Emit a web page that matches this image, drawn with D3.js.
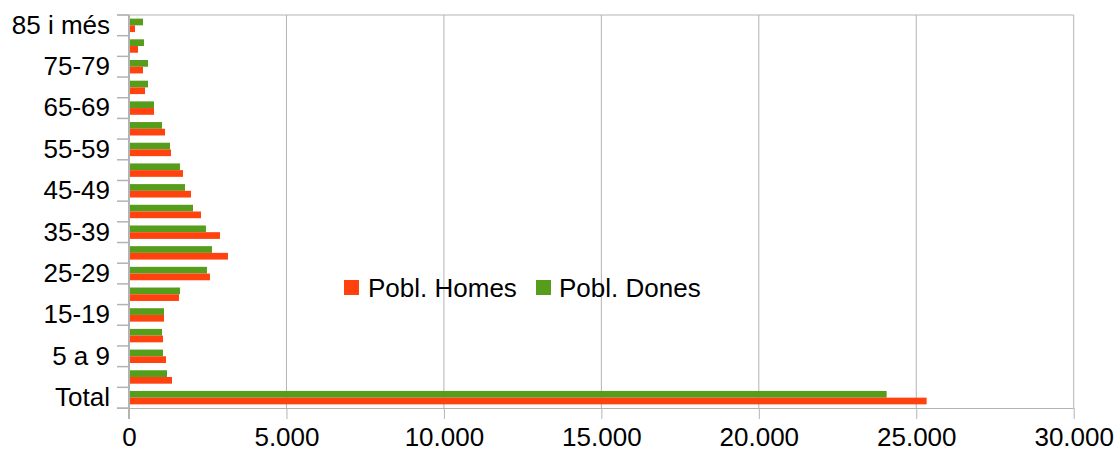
<!DOCTYPE html>
<html>
<head>
<meta charset="utf-8">
<script src="https://cdn.jsdelivr.net/npm/d3@7"></script>
<style>
  html, body { margin: 0; padding: 0; background: #fff; }
  svg { display: block; font-family: "Liberation Sans", Arial, sans-serif; }
</style>
</head>
<body>
<svg id="chart" width="1115" height="452"></svg>
<script>
// Categories, bottom to top
const categories = ["Total", "0-4", "5 a 9", "10-14", "15-19", "20-24", "25-29", "30-34", "35-39",
  "40-44", "45-49", "50-54", "55-59", "60-64", "65-69", "70-74", "75-79", "80-84", "85 i més"];
const seriesNames = ["Pobl. Dones", "Pobl. Homes"];
const dones = [24060, 1206, 1079, 1048, 1111, 1619, 2476, 2635, 2444,
  2032, 1778, 1619, 1302, 1048, 794, 603, 603, 476, 444];
const homes = [25330, 1365, 1175, 1079, 1111, 1587, 2571, 3143, 2889,
  2286, 1968, 1714, 1333, 1143, 794, 508, 444, 286, 190];
const xTicks = [0, 5000, 10000, 15000, 20000, 25000, 30000];
const colors = { "Pobl. Homes": "#ff420e", "Pobl. Dones": "#579d1c" };

const svg = d3.select("#chart");
const mLeft = 129, mRight = 1073.7, mTop = 15, mBottom = 408;
const gridColor = "#b3b3b3";
const fontSize = 26;

const x = d3.scaleLinear().domain([0, 30000]).range([mLeft, mRight]);
const y = d3.scaleBand().domain(categories).range([mBottom, mTop]).padding(0);
const sub = d3.scaleBand().domain(seriesNames).range([0, y.bandwidth()]).paddingInner(0).paddingOuter(0.54);

const fmt = d3.formatLocale({ decimal: ",", thousands: ".", grouping: [3], currency: ["", "€"] }).format(",d");

// vertical grid lines
svg.append("g").selectAll("line").data(xTicks.slice(1)).join("line")
  .attr("x1", d => x(d)).attr("x2", d => x(d))
  .attr("y1", mTop).attr("y2", mBottom)
  .attr("stroke", gridColor).attr("stroke-width", 1);

// top frame line
svg.append("line").attr("x1", 117).attr("x2", mRight).attr("y1", mTop).attr("y2", mTop)
  .attr("stroke", gridColor);
// category boundary ticks on left
const bounds = categories.map(c => y(c)).concat([mBottom]);
svg.append("g").selectAll("line").data(bounds).join("line")
  .attr("x1", 117).attr("x2", mLeft).attr("y1", d => d).attr("y2", d => d)
  .attr("stroke", gridColor).attr("stroke-width", 1.5);

// bars
const data = categories.map((c, i) => ({ cat: c, vals: [
  { key: "Pobl. Dones", value: dones[i] },
  { key: "Pobl. Homes", value: homes[i] }
]}));
const groups = svg.append("g").selectAll("g").data(data).join("g")
  .attr("transform", d => `translate(0,${y(d.cat)})`);
groups.selectAll("rect").data(d => d.vals).join("rect")
  .attr("x", x(0))
  .attr("y", d => sub(d.key))
  .attr("width", d => x(d.value) - x(0))
  .attr("height", sub.bandwidth())
  .attr("fill", d => colors[d.key]);

// x axis
const xAxis = d3.axisBottom(x).tickValues(xTicks).tickFormat(fmt).tickSize(11).tickPadding(8.5);
const gx = svg.append("g").attr("transform", `translate(0,${mBottom})`).call(xAxis);
gx.select(".domain").attr("stroke", gridColor).attr("d", `M117,0.5H${mRight}`);
gx.selectAll(".tick line").attr("stroke", gridColor);
gx.selectAll("text").attr("font-size", fontSize).attr("fill", "#000")
  .attr("font-family", "'Liberation Sans', Arial, sans-serif");

// y axis
const yAxis = d3.axisLeft(y).tickSize(0).tickPadding(19)
  .tickFormat((d, i) => (i % 2 === 0 ? d : ""));
const gy = svg.append("g").attr("transform", `translate(${mLeft},0)`).call(yAxis);
gy.select(".domain").remove();
gy.selectAll("text").attr("font-size", fontSize).attr("fill", "#000")
  .attr("font-family", "'Liberation Sans', Arial, sans-serif");

// left axis line
svg.append("line").attr("x1", mLeft).attr("x2", mLeft).attr("y1", mTop).attr("y2", mBottom + 11)
  .attr("stroke", gridColor).attr("stroke-width", 2);

// legend
const legendItems = [
  { key: "Pobl. Homes", sx: 344, tx: 368 },
  { key: "Pobl. Dones", sx: 536, tx: 559 }
];
const lg = svg.append("g");
legendItems.forEach(it => {
  lg.append("rect").attr("x", it.sx).attr("y", 280).attr("width", 15).attr("height", 15)
    .attr("fill", colors[it.key]);
  lg.append("text").attr("x", it.tx).attr("y", 297).attr("font-size", fontSize)
    .attr("fill", "#000").text(it.key);
});
</script>
</body>
</html>
